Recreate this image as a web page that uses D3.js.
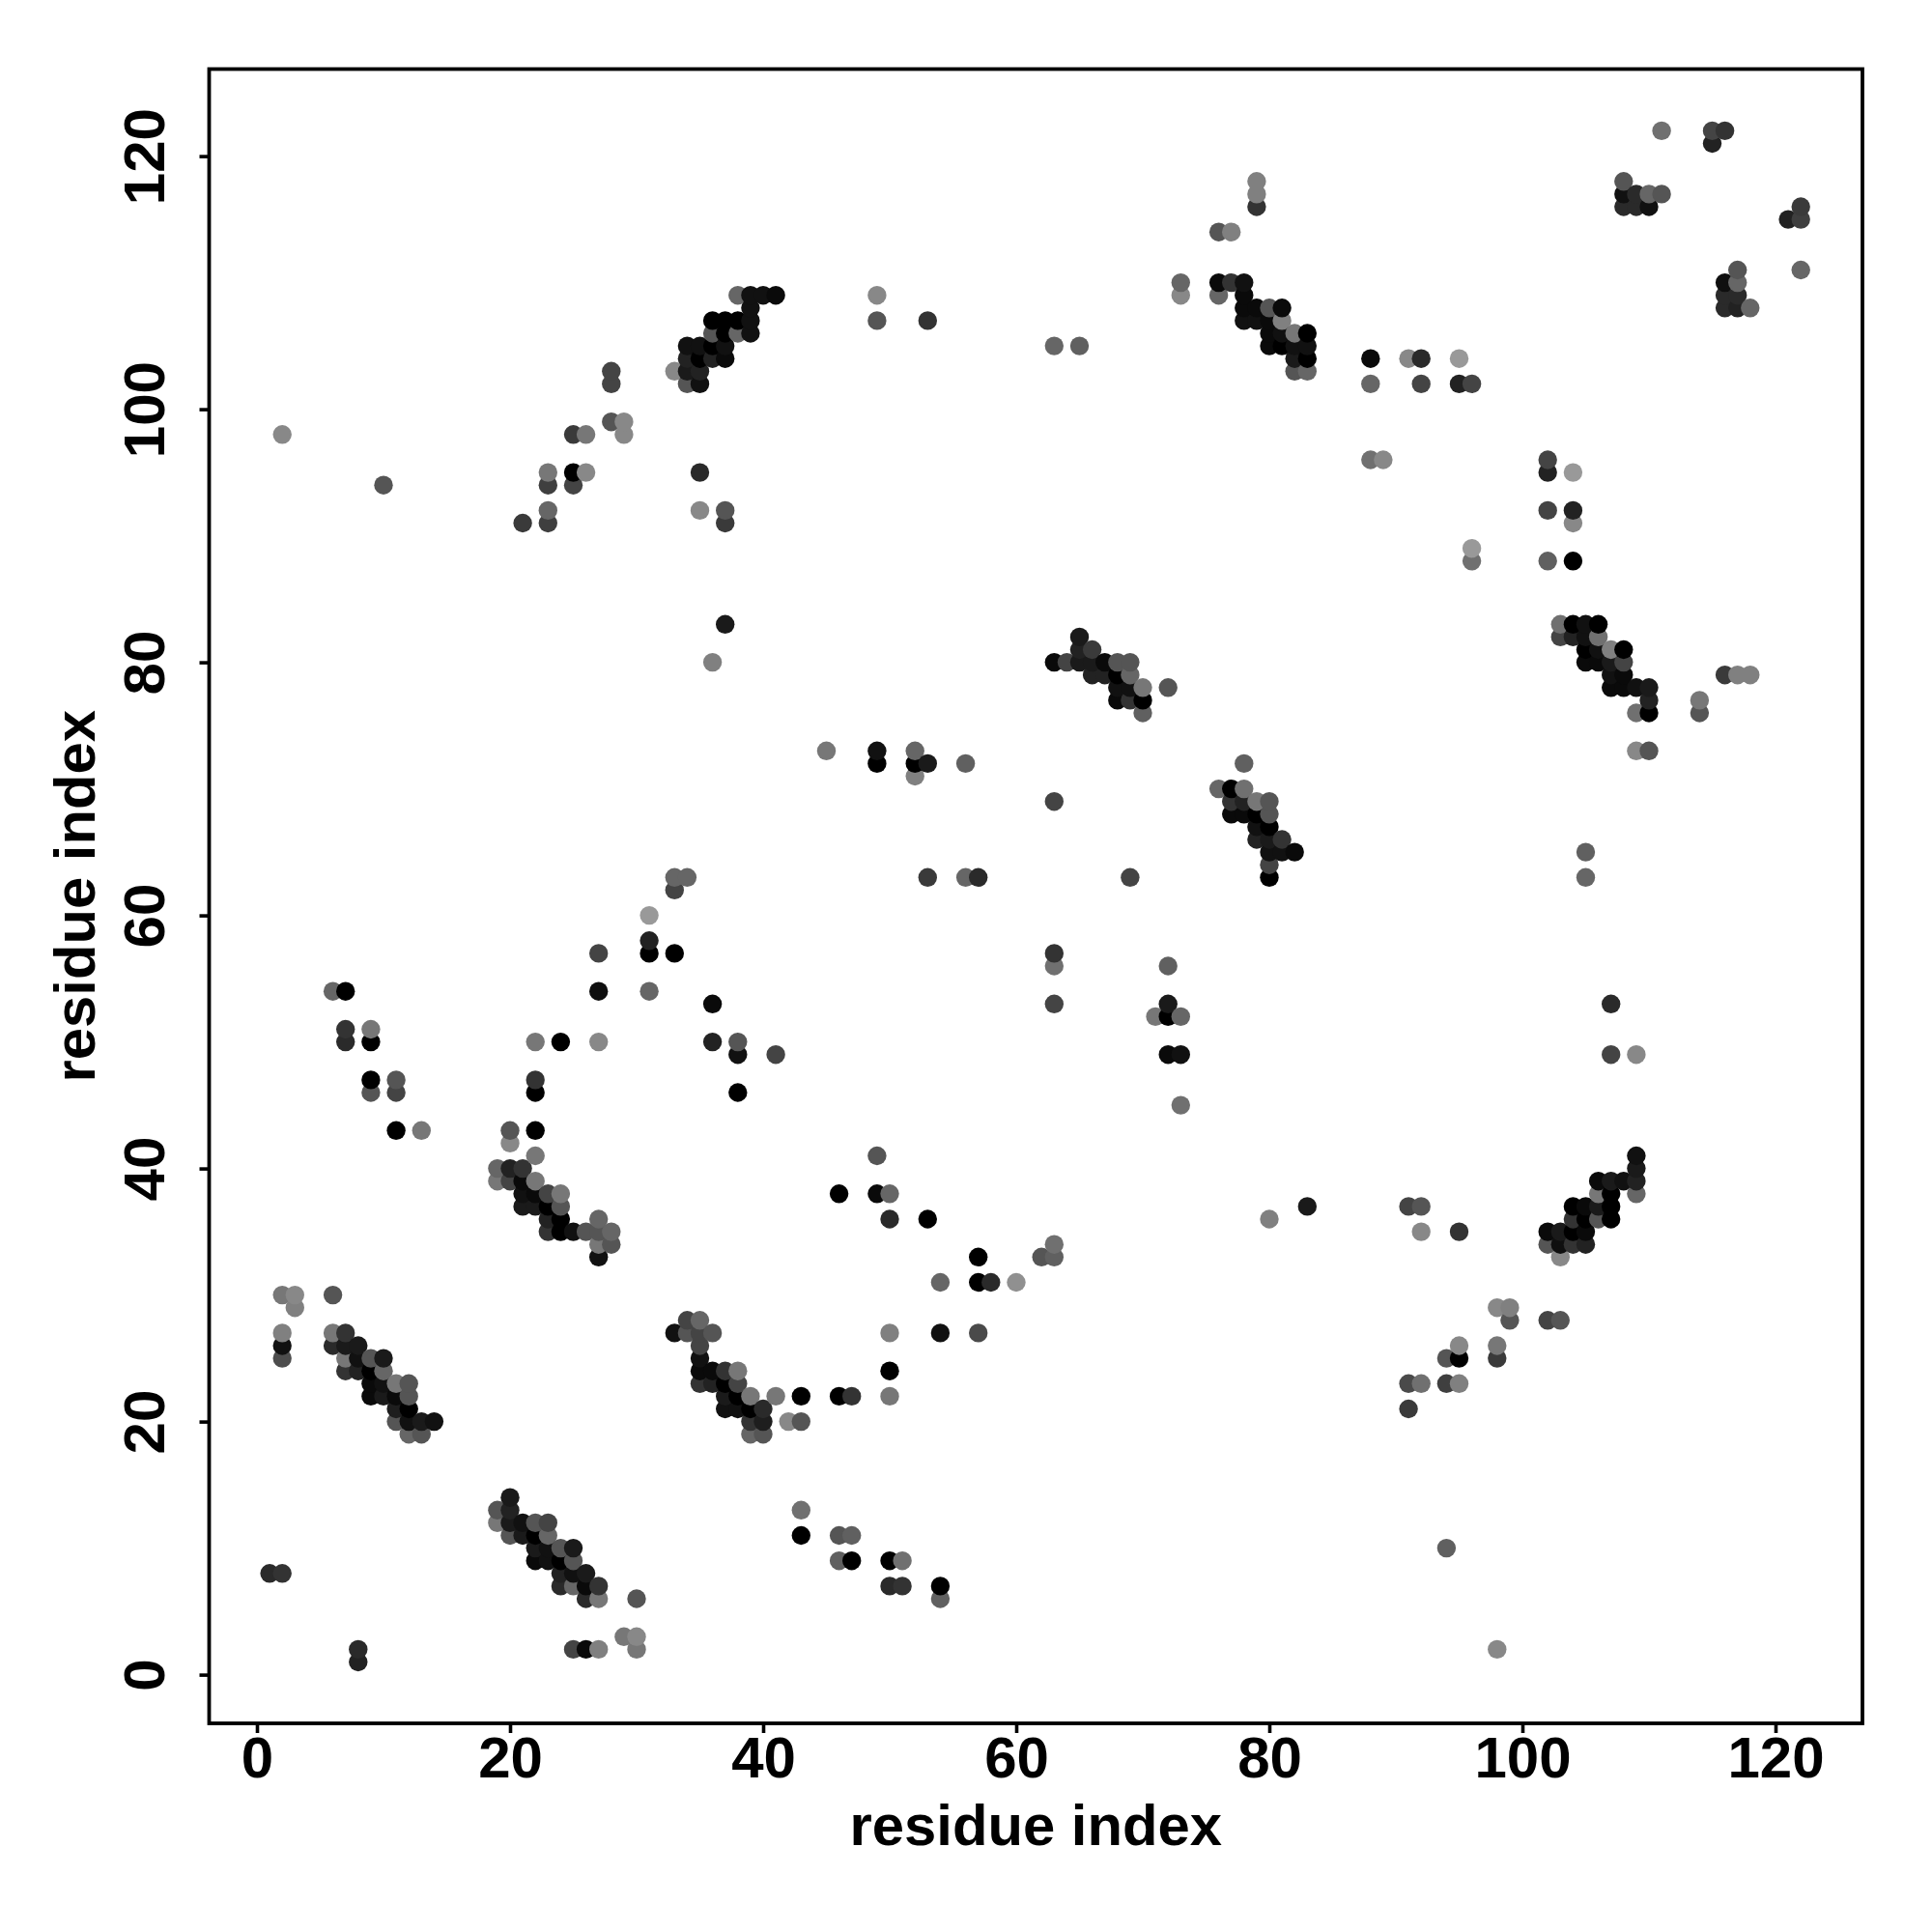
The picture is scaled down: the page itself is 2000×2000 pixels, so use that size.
<!DOCTYPE html>
<html>
<head>
<meta charset="utf-8">
<script src="https://cdn.jsdelivr.net/npm/d3@7/dist/d3.min.js"></script>
<style>html,body{margin:0;padding:0;background:#fff}svg{display:block}</style>
</head>
<body>
<div id="chart"></div>
<script>
// Each entry: residue x, residue y, grey level (0-255)
const lowerLeftScatter = [[1,8,42],[2,8,51],[8,2,42],[8,1,34],[2,30,119],[3,30,136],[3,29,128],[6,30,85],[2,27,128],[2,26,17],[2,25,77],[25,2,68],[26,2,10],[27,2,128],[29,3,119],[30,3,136],[30,2,119],[30,6,85]];
const clusterA = [[6,27,119],[7,27,51],[6,26,42],[7,26,26],[8,26,26],[7,25,119],[8,25,17],[9,25,85],[10,25,26],[7,24,51],[8,24,34],[9,24,0],[10,24,102],[9,23,10],[10,23,17],[11,23,119],[12,23,85],[9,22,10],[10,22,26],[11,22,10],[12,22,85],[11,21,30],[12,21,0],[11,20,85],[12,20,17],[13,20,26],[14,20,17],[12,19,102],[13,19,85]];
const clusterB = [[20,14,26],[20,13,34],[19,13,85],[19,12,119],[20,12,26],[21,12,17],[22,12,85],[23,12,68],[20,11,85],[21,11,26],[22,11,0],[23,11,102],[22,10,26],[23,10,17],[24,10,85],[25,10,26],[22,9,10],[23,9,17],[24,9,0],[25,9,85],[24,8,34],[25,8,17],[26,8,26],[24,7,42],[25,7,102],[26,7,10],[27,7,51],[26,6,42],[27,6,119]];
const clusterC = [[33,27,17],[34,28,68],[35,28,102],[34,27,85],[35,27,68],[36,27,85],[35,26,68],[35,25,17],[35,24,10],[36,24,10],[37,24,51],[38,24,119],[35,23,51],[36,23,34],[37,23,0],[38,23,68],[37,22,26],[38,22,0],[39,22,119],[41,22,119],[37,21,17],[38,21,17],[39,21,0],[40,21,42],[39,20,51],[40,20,30],[42,20,136],[43,20,85],[39,19,102],[40,19,85],[43,22,0],[46,22,0],[47,22,51]];
const clusterD = [[19,40,102],[20,40,34],[21,40,51],[22,41,119],[19,39,119],[20,39,68],[21,39,10],[22,39,119],[21,38,17],[22,38,10],[23,38,68],[24,38,119],[21,37,26],[22,37,26],[23,37,0],[24,37,85],[23,36,34],[24,36,0],[27,36,102],[23,35,51],[24,35,0],[25,35,17],[26,35,85],[27,35,85],[28,35,102],[27,34,119],[28,34,85],[27,33,17],[20,43,85],[22,43,0],[20,42,136]];
const leftMiddleScatter = [[6,54,102],[7,54,0],[7,51,51],[9,51,119],[7,50,42],[9,50,0],[9,47,0],[11,47,85],[9,46,85],[11,46,68],[11,43,0],[13,43,119],[22,50,119],[24,50,0],[27,50,136],[22,47,51],[22,46,0],[27,54,15],[27,57,68],[31,54,102],[31,58,34],[31,57,0],[33,57,0],[31,60,153],[33,62,68],[33,63,102],[34,63,102],[36,53,10],[36,50,34],[38,50,85],[38,49,17],[41,49,68],[38,46,0],[36,80,128],[37,83,26],[45,73,119]];
const upperLeftScatter = [[2,98,136],[10,94,85],[21,91,58],[23,92,102],[23,91,63],[23,95,119],[23,94,63],[25,95,0],[25,94,68],[26,95,136],[25,98,58],[26,98,119],[28,103,68],[28,102,68],[28,99,85],[29,99,136],[29,98,136],[35,95,42],[35,92,136],[37,92,85],[37,91,58]];
const clusterE = [[33,103,136],[34,103,26],[35,103,34],[34,102,85],[35,102,17],[34,105,17],[35,105,17],[36,105,0],[37,105,17],[34,104,34],[35,104,0],[36,104,34],[37,104,10],[36,106,85],[37,106,0],[38,106,102],[39,106,17],[36,107,0],[37,107,0],[38,107,0],[39,107,17],[39,108,17],[38,109,102],[39,109,17],[40,109,17],[41,109,10]];
const centerScatter = [[49,109,136],[49,107,85],[53,107,51],[63,105,102],[65,105,96],[49,73,17],[49,72,0],[52,73,102],[52,72,0],[53,72,26],[52,71,128],[56,72,96],[53,63,58],[56,63,102],[57,63,42],[63,69,68],[69,63,68],[63,57,51],[63,56,112],[63,53,68],[72,56,96],[72,53,26],[71,52,119],[72,52,0],[73,52,102],[72,49,10],[73,49,17],[73,45,112]];
const lowerCenterScatter = [[49,41,85],[46,38,0],[49,38,10],[50,38,102],[50,36,42],[53,36,0],[57,33,0],[62,33,85],[63,34,112],[63,33,96],[54,31,102],[57,31,0],[58,31,42],[60,31,144],[50,27,128],[54,27,17],[57,27,74],[50,24,0],[50,22,119],[43,13,112],[43,11,0],[46,11,85],[47,11,96],[46,9,96],[47,9,0],[50,9,0],[51,9,112],[50,7,42],[51,7,51],[54,7,0],[54,6,96],[80,36,128],[83,37,26]];
const clusterF = [[63,80,10],[64,80,68],[65,82,26],[65,81,34],[65,80,26],[66,81,58],[66,80,26],[67,80,10],[68,80,85],[69,80,85],[66,79,34],[67,79,34],[68,79,0],[69,79,102],[68,78,17],[69,78,17],[70,78,119],[72,78,85],[68,77,10],[69,77,51],[70,77,0],[70,76,96]];
const clusterG = [[78,72,96],[76,70,102],[77,70,0],[78,70,112],[77,69,51],[78,69,34],[79,69,119],[80,69,85],[77,68,10],[78,68,10],[79,68,0],[80,68,85],[79,67,17],[80,67,0],[79,66,34],[80,66,26],[81,66,51],[80,65,17],[81,65,17],[82,65,10],[80,64,68],[80,63,0]];
const clusterH = [[79,118,128],[79,117,128],[79,116,51],[76,114,85],[77,114,128],[73,110,102],[73,109,136],[76,110,10],[77,110,51],[78,110,17],[76,109,102],[78,109,10],[78,108,10],[79,108,10],[80,108,85],[81,108,10],[78,107,17],[79,107,17],[80,107,10],[81,107,128],[80,106,10],[81,106,17],[82,106,119],[83,106,0],[80,105,10],[81,105,0],[82,105,17],[83,105,17],[82,104,26],[83,104,0],[82,103,85],[83,103,102]];
const upperRightScatter = [[88,104,10],[88,102,102],[91,104,136],[92,104,42],[92,102,68],[95,104,153],[95,102,34],[96,102,68],[88,96,112],[89,96,136],[96,89,153],[96,88,112],[102,96,68],[102,95,34],[104,95,153],[102,92,68],[104,92,34],[104,91,136],[102,88,96],[104,88,0],[111,122,112],[115,122,68],[116,122,51],[115,121,34],[108,118,85],[108,117,17],[109,117,42],[110,117,102],[111,117,85],[108,116,42],[109,116,42],[110,116,17],[121,115,34],[122,116,58],[122,115,63],[122,111,102],[117,111,85],[116,110,15],[117,110,102],[116,109,42],[117,109,42],[116,108,42],[117,108,34],[118,108,102]];
const clusterI = [[103,83,112],[104,83,0],[105,83,17],[106,83,0],[103,82,68],[104,82,34],[105,82,17],[106,82,112],[105,81,0],[106,81,17],[107,81,128],[108,81,0],[105,80,10],[106,80,10],[107,80,26],[108,80,68],[107,79,17],[108,79,10],[107,78,10],[108,78,10],[109,78,17],[110,78,26],[110,77,34],[109,76,112],[110,76,0],[109,73,136],[110,73,85],[114,77,119],[114,76,85],[116,79,58],[117,79,128],[118,79,128]];
const rightMiddleScatter = [[105,65,96],[105,63,102],[107,53,42],[107,49,68],[109,49,136]];
const clusterJ = [[109,41,17],[109,40,26],[109,39,34],[106,39,10],[107,39,26],[108,39,17],[106,38,119],[107,38,0],[109,38,102],[104,37,0],[105,37,10],[106,37,26],[107,37,0],[104,36,51],[105,36,0],[106,36,85],[107,36,0],[102,35,10],[103,35,26],[104,35,0],[105,35,10],[102,34,85],[103,34,15],[104,34,51],[105,34,34],[103,33,136]];
const lowerRightScatter = [[91,37,68],[92,37,85],[92,35,136],[95,35,51],[98,29,136],[99,29,128],[99,28,85],[102,28,68],[103,28,85],[98,26,119],[98,25,58],[95,26,136],[94,25,85],[95,25,0],[91,23,74],[92,23,112],[94,23,63],[95,23,128],[91,21,58],[94,10,96],[98,2,136]];

const tickValues = [0, 20, 40, 60, 80, 100, 120];
const xAxisTitle = "residue index";
const yAxisTitle = "residue index";

const contacts = [lowerLeftScatter, clusterA, clusterB, clusterC, clusterD, leftMiddleScatter, upperLeftScatter, clusterE, centerScatter, lowerCenterScatter, clusterF, clusterG, clusterH, upperRightScatter, clusterI, rightMiddleScatter, clusterJ, lowerRightScatter]
  .flat()
  .map(([x, y, g]) => ({x, y, g}))
  .sort((a, b) => d3.ascending(a.x, b.x) || d3.ascending(a.y, b.y));

const frame = {left: 216.5, right: 1928, top: 71.5, bottom: 1784};
const unit = 13.1;
const x = d3.scaleLinear().domain([0, 120]).range([266, 266 + 120 * unit]);
const y = d3.scaleLinear().domain([0, 120]).range([1733.6, 1733.6 - 120 * unit]);

const font = '"Liberation Sans", Arial, Helvetica, sans-serif';
const svg = d3.select("#chart").append("svg")
  .attr("width", 2000).attr("height", 2000).attr("viewBox", "0 0 2000 2000")
  .style("background", "#fff");

svg.append("g").selectAll("circle").data(contacts).join("circle")
  .attr("cx", d => x(d.x))
  .attr("cy", d => y(d.y))
  .attr("r", 9.7)
  .attr("fill", d => d3.rgb(d.g, d.g, d.g).formatHex());

const xAxis = svg.append("g").attr("transform", `translate(0,${frame.bottom})`)
  .call(d3.axisBottom(x).tickValues(tickValues).tickSize(10).tickPadding(0).tickFormat(d3.format("d")));
const yAxis = svg.append("g").attr("transform", `translate(${frame.left},0)`)
  .call(d3.axisLeft(y).tickValues(tickValues).tickSize(10).tickPadding(0).tickFormat(d3.format("d")));
[xAxis, yAxis].forEach(a => {
  a.select(".domain").remove();
  a.selectAll(".tick line").attr("stroke", "#000").attr("stroke-width", 3.6);
  a.selectAll(".tick text").attr("fill", "#000")
    .style("font-family", font).style("font-weight", "bold").style("font-size", "60px");
});
xAxis.selectAll(".tick text").attr("y", 56).attr("dy", 0).attr("text-anchor", "middle");
yAxis.selectAll(".tick text")
  .attr("x", 0).attr("dy", 0).attr("y", 0)
  .attr("text-anchor", "middle")
  .attr("transform", "translate(-46.5,0) rotate(-90)");

svg.append("rect")
  .attr("x", frame.left).attr("y", frame.top)
  .attr("width", frame.right - frame.left).attr("height", frame.bottom - frame.top)
  .attr("fill", "none").attr("stroke", "#000").attr("stroke-width", 3.8);

svg.append("text").text(xAxisTitle)
  .attr("x", (frame.left + frame.right) / 2).attr("y", 1910)
  .attr("text-anchor", "middle").attr("fill", "#000")
  .style("font-family", font).style("font-weight", "bold").style("font-size", "59.8px");
svg.append("text").text(yAxisTitle)
  .attr("transform", `translate(98,${(frame.top + frame.bottom) / 2}) rotate(-90)`)
  .attr("text-anchor", "middle").attr("fill", "#000")
  .style("font-family", font).style("font-weight", "bold").style("font-size", "59.8px");
</script>
</body>
</html>
